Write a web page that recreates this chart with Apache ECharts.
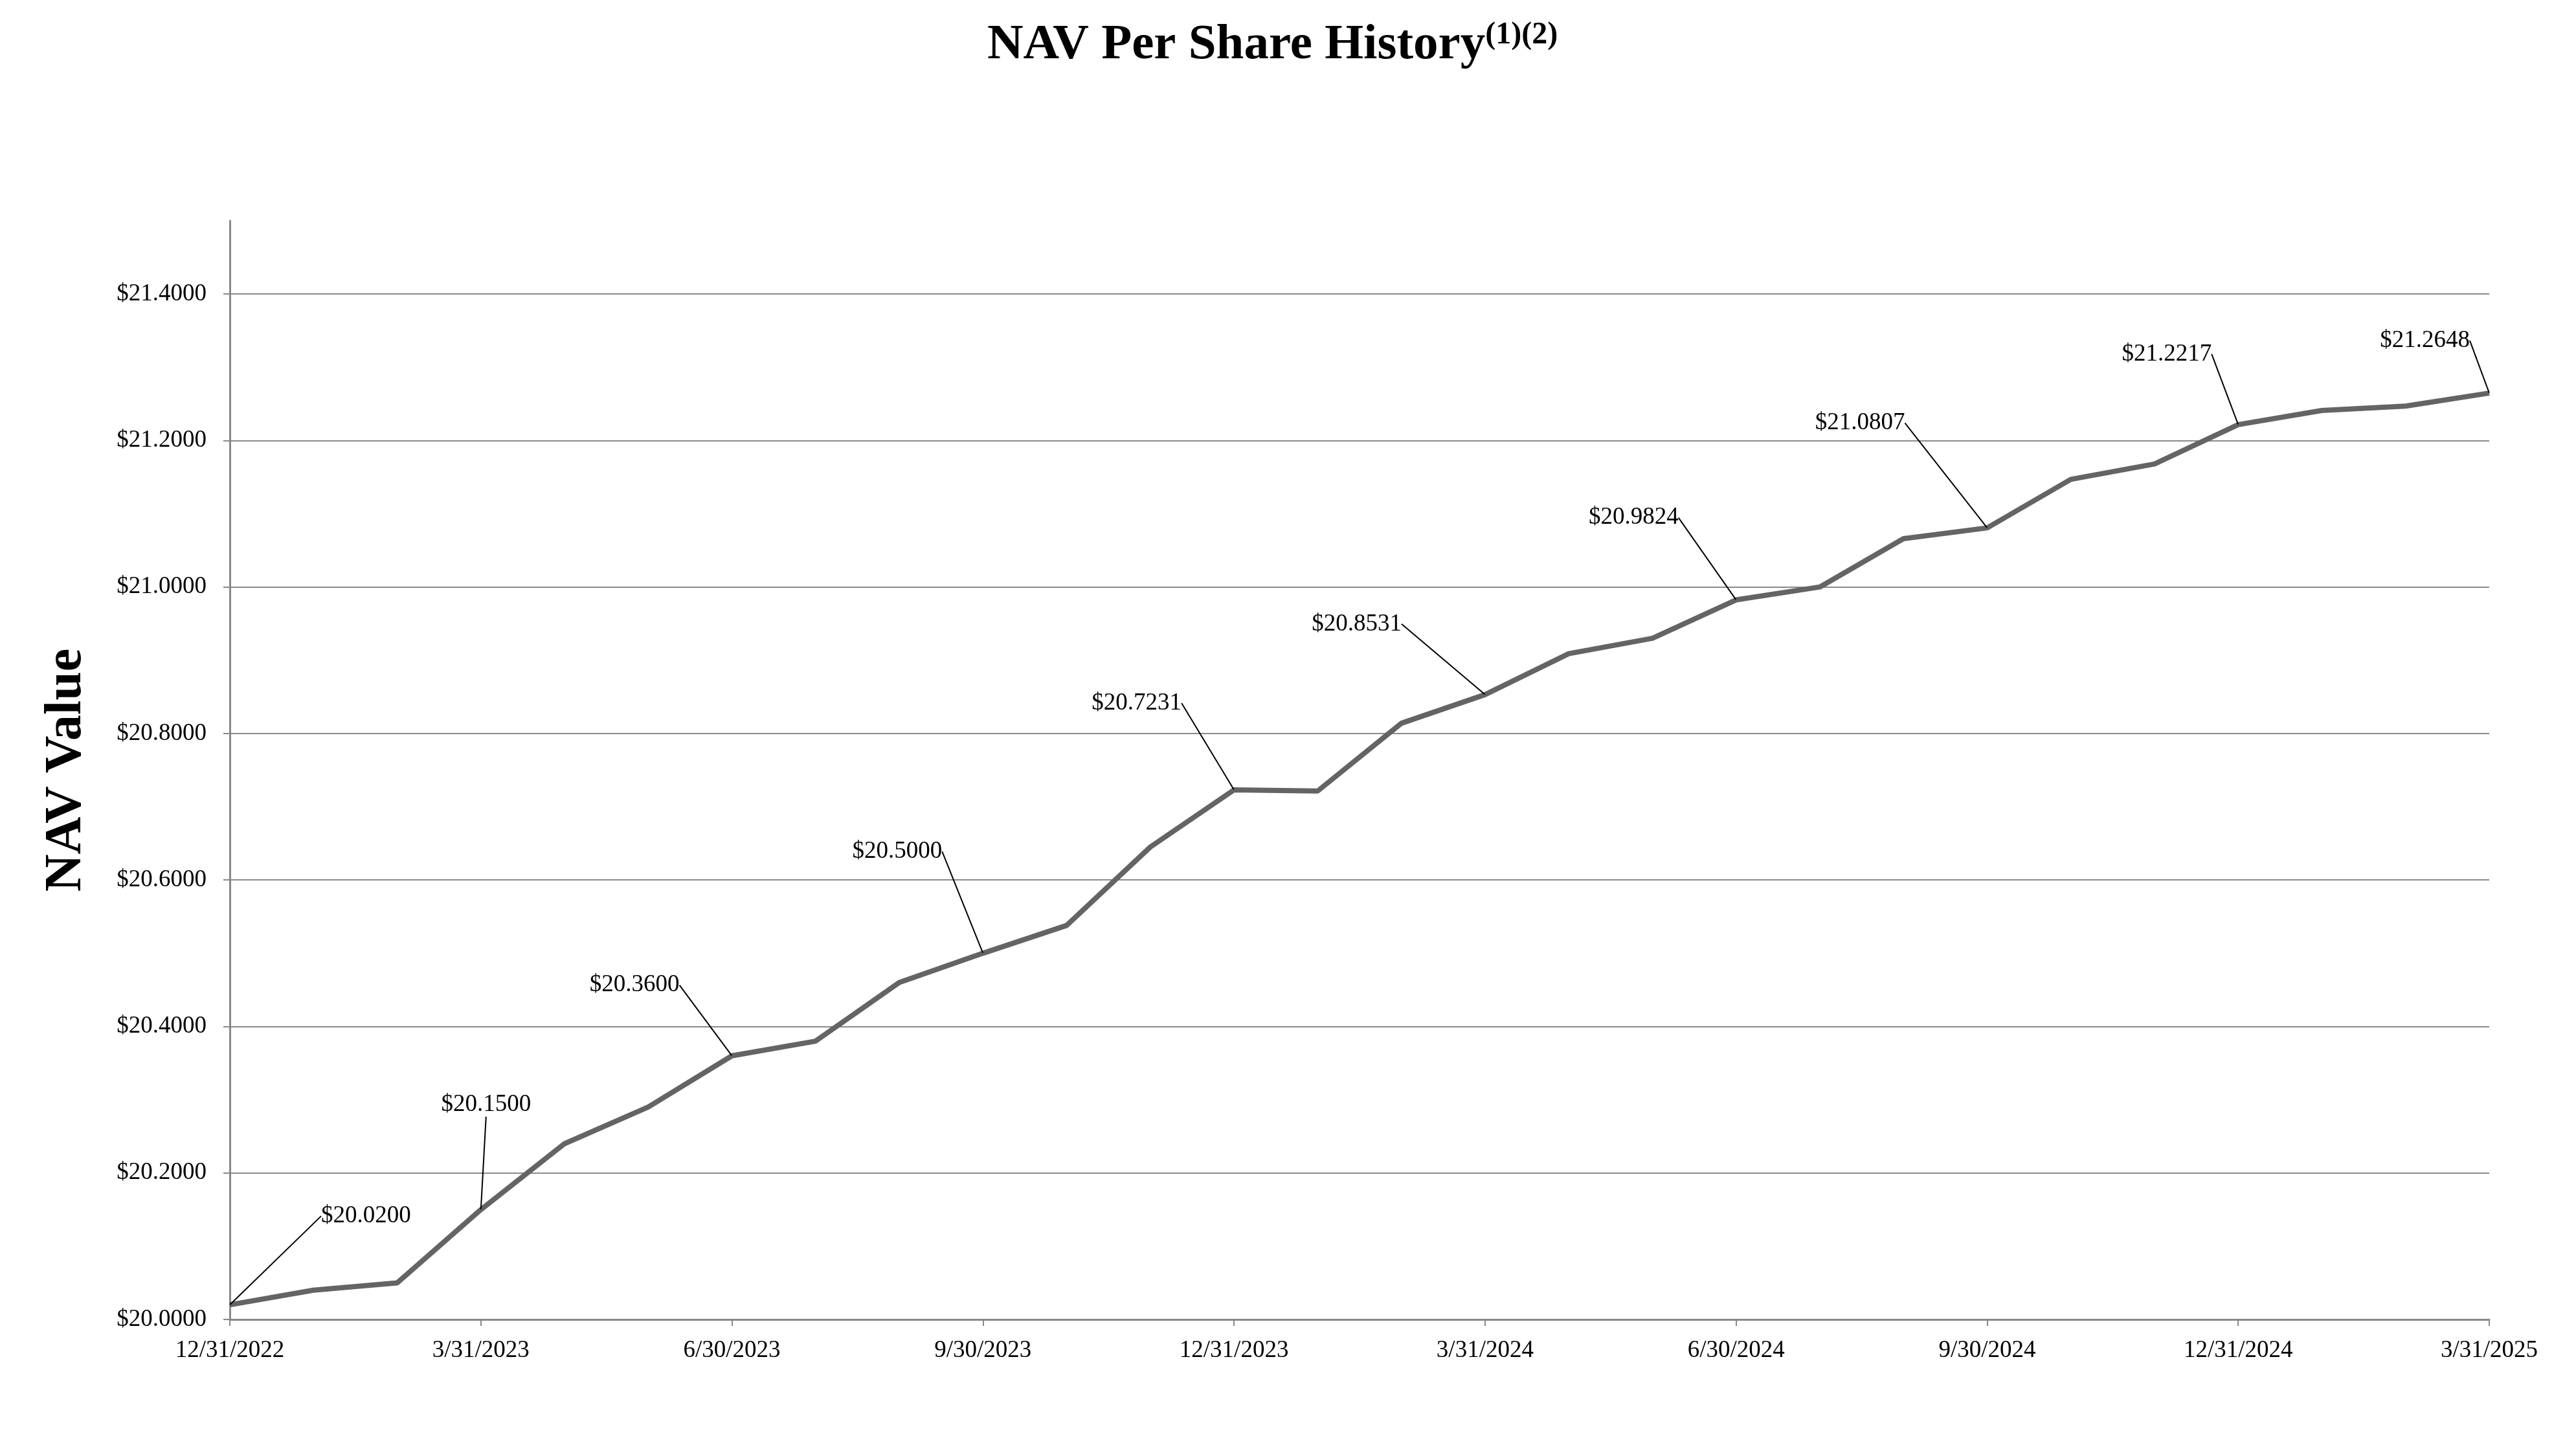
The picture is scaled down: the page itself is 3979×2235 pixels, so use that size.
<!DOCTYPE html>
<html>
<head>
<meta charset="utf-8">
<title>NAV Per Share History</title>
<script src="https://cdn.jsdelivr.net/npm/echarts@6/dist/echarts.min.js"></script>
<style>
  html, body { margin: 0; padding: 0; background: #fff; }
  #nav-chart { width: 3979px; height: 2235px; }
</style>
</head>
<body>
<div id="nav-chart"></div>
<script>
// month-end dates, Dec 2022 - Mar 2025
var months = [
  '12/31/2022', '1/31/2023', '2/28/2023', '3/31/2023', '4/30/2023', '5/31/2023',
  '6/30/2023', '7/31/2023', '8/31/2023', '9/30/2023', '10/31/2023', '11/30/2023',
  '12/31/2023', '1/31/2024', '2/29/2024', '3/31/2024', '4/30/2024', '5/31/2024',
  '6/30/2024', '7/31/2024', '8/31/2024', '9/30/2024', '10/31/2024', '11/30/2024',
  '12/31/2024', '1/31/2025', '2/28/2025', '3/31/2025'
];
// NAV per share (quarter ends are the labelled values)
var navValues = [
  20.0200, 20.040, 20.050, 20.1500, 20.240, 20.290,
  20.3600, 20.380, 20.460, 20.5000, 20.538, 20.645,
  20.7231, 20.7215, 20.814, 20.8531, 20.909, 20.930,
  20.9824, 21.000, 21.066, 21.0807, 21.147, 21.168,
  21.2217, 21.241, 21.247, 21.2648
];
// points that get a callout
var labelledIdx = [0, 3, 6, 9, 12, 15, 18, 21, 24, 27];
var yTicks = [20.0, 20.2, 20.4, 20.6, 20.8, 21.0, 21.2, 21.4];

var FONT = '"Liberation Serif", "Times New Roman", serif';
var PAD = 23;

// callout text placement relative to the point: [dx, dy, align]
var callouts = {
  0: [141, -137, 'left'],
  3: [8, -162, 'center'],
  6: [-81, -109, 'right'],
  9: [-63, -157, 'right'],
  12: [-81, -134, 'right'],
  15: [-129, -109, 'right'],
  18: [-89, -127, 'right'],
  21: [-127, -162, 'right'],
  24: [-41, -109, 'right'],
  27: [-30, -81, 'right']
};

var chartDom = document.getElementById('nav-chart');
var myChart = echarts.init(chartDom);

var seriesData = navValues.map(function (v, i) {
  if (labelledIdx.indexOf(i) >= 0) {
    return { value: v, label: { show: true } };
  }
  return v;
});

var option = {
  animation: false,
  backgroundColor: '#fff',
  title: {
    text: '{m|NAV Per Share History}{s|(1)(2)}',
    left: 1520,
    top: 26,
    textStyle: {
      rich: {
        m: { fontFamily: FONT, fontSize: 77, fontWeight: 'bold', color: '#000', verticalAlign: 'bottom' },
        s: { fontFamily: FONT, fontSize: 48, fontWeight: 'bold', color: '#000', verticalAlign: 'top', padding: [0, 0, 30, 0] }
      }
    }
  },
  grid: {
    left: 355,
    right: 134,
    top: 341,
    bottom: 197
  },
  xAxis: {
    type: 'category',
    data: months,
    boundaryGap: false,
    axisLine: { lineStyle: { color: '#888', width: 3 } },
    axisTick: { show: true, interval: 2, length: 10, lineStyle: { color: '#888', width: 2 } },
    axisLabel: {
      interval: 2,
      margin: 30,
      fontFamily: FONT,
      fontSize: 37,
      color: '#000'
    },
    splitLine: { show: false }
  },
  yAxis: {
    type: 'value',
    min: 20,
    max: 21.5,
    interval: 0.2,
    name: 'NAV Value',
    nameLocation: 'middle',
    nameGap: 212,
    nameRotate: 90,
    nameTextStyle: {
      fontFamily: FONT,
      fontSize: 80,
      fontWeight: 'bold',
      color: '#000'
    },
    axisLine: { show: true, lineStyle: { color: '#888', width: 3 } },
    axisTick: {
      show: true,
      length: 10,
      customValues: yTicks,
      lineStyle: { color: '#888', width: 2 }
    },
    axisLabel: {
      margin: 36,
      showMinLabel: true,
      showMaxLabel: true,
      customValues: yTicks,
      fontFamily: FONT,
      fontSize: 37,
      color: '#000',
      formatter: function (v) { return '$' + v.toFixed(4); }
    },
    splitLine: {
      show: true,
      showMinLine: false,
      lineStyle: { color: '#8a8a8a', width: 2 }
    }
  },
  series: [
    {
      name: 'NAV',
      type: 'line',
      data: seriesData,
      symbol: 'circle',
      symbolSize: 1,
      showSymbol: true,
      lineStyle: { color: '#646464', width: 8 },
      itemStyle: { color: '#646464' },
      label: {
        show: false,
        fontFamily: FONT,
        fontSize: 37,
        color: '#000',
        padding: [6, PAD, 6, PAD],
        formatter: function (p) { return '$' + p.value.toFixed(4); }
      },
      labelLine: {
        show: true,
        lineStyle: { color: '#000', width: 2 }
      },
      labelLayout: function (p) {
        var c = callouts[p.dataIndex];
        if (!c) return {};
        var cx = p.rect.x + p.rect.width / 2;
        var cy = p.rect.y + p.rect.height / 2;
        var shift = c[2] === 'right' ? PAD : (c[2] === 'left' ? -PAD : 0);
        return {
          x: cx + c[0] + shift,
          y: cy + c[1],
          align: c[2],
          verticalAlign: 'middle'
        };
      },
      emphasis: { disabled: true }
    }
  ]
};

option && myChart.setOption(option);
</script>
</body>
</html>
